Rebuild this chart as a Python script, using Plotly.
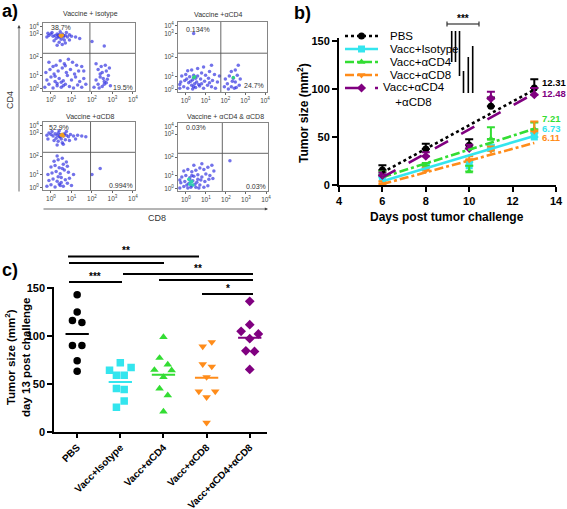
import plotly.graph_objects as go
import numpy as np

W, H = 567, 509
FONT = "Liberation Sans, Arial, sans-serif"

def PX(x):
    return x / W

def PY(y):
    return 1 - y / H

# ---------------- Panel a: flow cytometry (x: log10 CD8, y: display units of CD4) -------------
flow_titles = ["Vaccine + isotype", "Vaccine +αCD4", "Vaccine +αCD8", "Vaccine + αCD4 & αCD8"]
flow_ul_pct = ["38.7%", "0.134%", "52.9%", "0.03%"]
flow_lr_pct = ["19.5%", "24.7%", "0.994%", "0.03%"]
gate_x = [1.90, 1.77, 1.93, 1.82]
gate_y = [2.40, 2.40, 2.40, 2.40]
flow_xtick_vals = [0, 1, 2, 3, 4]
flow_ytick_vals = [0, 0.88, 2.14, 3.7, 4.2]
flow_tick_text = ["10<sup>0</sup>", "10<sup>1</sup>", "10<sup>2</sup>", "10<sup>3</sup>", "10<sup>4</sup>"]

iso_pts = [(0.45,3.6),(0.5,3.55),(0.4,3.65),(0.35,3.5),(0.55,3.7),(0.6,3.5),(0.3,3.7),(0.2,3.6),(0.1,3.55),(0.0,3.7),(-0.1,3.6),(-0.2,3.5),(0.7,3.6),(0.8,3.5),(0.9,3.65),(1.0,3.55),(1.2,3.5),(0.25,3.4),(0.5,3.35),(0.65,3.3),(0.15,3.25),(0.4,3.15),(0.7,3.1),(0.05,3.8),(0.45,3.85),(0.75,3.8),(-0.15,3.75),(0.55,3.0),(0.3,2.95),(0.9,3.3),(1.4,3.4),(0.35,3.6),(0.42,3.5),(0.6,3.62),
           (-0.3,0.1),(-0.1,0.3),(0.1,0.05),(0.3,0.2),(0.5,0.1),(0.7,0.3),(0.9,0.15),(1.1,0.05),(1.3,0.25),(1.5,0.1),(-0.2,0.6),(0.0,0.8),(0.2,0.5),(0.4,0.7),(0.6,0.55),(0.8,0.9),(1.0,0.6),(1.2,0.8),(1.4,0.5),(1.6,0.7),(-0.25,1.1),(-0.05,1.3),(0.15,1.0),(0.35,1.2),(0.55,1.4),(0.75,1.1),(0.95,1.3),(1.15,1.0),(1.35,1.2),(0.25,1.6),(0.65,1.7),(1.05,1.8),(0.45,1.9),(1.5,1.5),(-0.1,1.8),(0.85,2.0),(0.3,0.35),(0.5,0.45),(0.6,0.2),(0.2,0.85),(0.1,1.5),(0.7,1.55),(1.25,1.6),(1.7,0.3),(1.6,1.2),
           (2.1,0.1),(2.3,0.3),(2.5,0.15),(2.7,0.4),(2.9,0.2),(2.2,0.6),(2.4,0.8),(2.6,0.5),(2.8,0.9),(2.5,1.1),(2.3,1.3),(2.7,1.2),(2.45,1.5),(2.65,1.6),(2.55,0.7),(2.35,0.05),(2.75,0.65),(2.6,0.3),(2.4,1.0),(2.85,1.4),(2.2,1.7),(2.6,2.9),(2.0,3.2)]
iso_core = [(0.45,3.6),(0.5,3.55),(0.55,3.62)]

cd4_pts = [(0.4,3.7),
           (-0.3,0.1),(-0.1,0.2),(0.1,0.1),(0.3,0.3),(0.5,0.15),(0.7,0.25),(0.9,0.1),(1.1,0.3),(1.3,0.2),(1.5,0.1),(-0.25,0.5),(-0.05,0.6),(0.15,0.45),(0.35,0.65),(0.55,0.5),(0.75,0.7),(0.95,0.55),(1.15,0.75),(1.35,0.6),(-0.2,0.9),(0.0,1.0),(0.2,0.85),(0.4,0.95),(0.6,0.9),(0.8,1.1),(1.0,0.95),(1.2,1.2),(1.45,1.0),(0.3,1.3),(0.6,1.4),(0.9,1.5),(1.3,1.6),(0.1,1.25),(0.45,0.4),(0.25,0.55),(0.5,0.75),(0.4,0.2),(0.65,0.35),(1.6,0.5),(1.7,0.9),(1.2,0.45),(0.05,0.7),(-0.3,0.35),(0.35,0.05),(0.8,0.4),
           (1.95,0.2),(2.1,0.4),(2.3,0.2),(2.5,0.5),(2.7,0.3),(2.0,0.7),(2.2,0.9),(2.4,0.75),(2.6,0.95),(2.3,1.2),(2.5,1.3),(2.75,0.7),(2.15,0.05),(2.45,0.1),(2.35,0.55),(2.55,0.15),(2.65,1.6)]
cd4_core = [(0.4,0.8),(0.45,0.85),(2.4,0.8)]

cd8_pts = [(0.5,3.55),(0.6,3.5),(0.45,3.6),(0.4,3.45),(0.65,3.65),(0.3,3.55),(0.2,3.65),(0.1,3.5),(0.0,3.6),(-0.1,3.7),(-0.2,3.55),(0.75,3.55),(0.85,3.45),(0.95,3.6),(1.1,3.5),(1.3,3.55),(1.5,3.5),(1.7,3.45),(0.25,3.35),(0.5,3.3),(0.7,3.25),(0.35,3.15),(0.55,3.05),(0.15,3.2),(0.05,3.8),(0.4,3.85),(0.75,3.8),(-0.15,3.3),(0.9,3.2),(0.6,2.95),(0.3,2.9),(1.2,3.3),(0.45,3.45),(0.62,3.58),(0.35,3.7),
           (-0.2,0.1),(0.0,0.2),(0.2,0.05),(0.4,0.25),(0.6,0.1),(0.8,0.3),(1.0,0.15),(-0.1,0.5),(0.1,0.6),(0.3,0.45),(0.5,0.7),(0.7,0.55),(0.9,0.65),(-0.15,0.9),(0.05,1.0),(0.25,1.1),(0.45,0.95),(0.65,1.2),(0.85,1.05),(0.0,1.4),(0.2,1.5),(0.4,1.35),(0.6,1.6),(0.8,1.45),(0.15,1.8),(0.35,1.9),(0.55,2.0),(0.75,1.75),(0.3,2.15),(0.5,0.35),(0.35,0.75),(0.55,1.3),(1.1,0.9),(0.45,0.15),
           (2.0,0.9),(2.4,1.3)]
cd8_core = [(0.5,3.55),(0.55,3.62),(0.6,3.5)]

dbl_pts = [(-0.3,0.05),(-0.1,0.15),(0.1,0.05),(0.3,0.2),(0.5,0.1),(0.7,0.25),(0.9,0.1),(1.1,0.2),(-0.25,0.4),(-0.05,0.5),(0.15,0.35),(0.35,0.55),(0.55,0.45),(0.75,0.6),(0.95,0.5),(1.15,0.65),(-0.2,0.8),(0.0,0.9),(0.2,0.75),(0.4,0.85),(0.6,0.95),(0.8,0.8),(1.0,1.0),(1.2,0.9),(-0.1,1.2),(0.1,1.3),(0.3,1.15),(0.5,1.25),(0.7,1.4),(0.9,1.3),(1.1,1.45),(1.3,1.6),(0.4,1.6),(0.8,1.7),(0.2,0.6),(0.45,0.3),(0.3,0.9),(0.6,0.65),(0.05,0.25),(1.4,1.2),(1.35,0.7),(-0.3,0.6),(0.25,0.1),(0.65,0.05),
           (2.2,1.9)]
dbl_core = [(0.25,0.45),(0.3,0.5),(0.2,0.3),(0.35,0.25),(0.15,0.65)]

flow_pts = [iso_pts, cd4_pts, cd8_pts, dbl_pts]
flow_core = [iso_core, cd4_core, cd8_core, dbl_core]
core_colors = ["#f0a020", "#30d080", "#f0a020", "#30d0b0"]

# ---------------- Panel b: tumour growth ----------------
b_days = [6, 8, 10, 11, 13]
b_names = ["PBS", "Vacc+Isotype", "Vacc+αCD4", "Vacc+αCD8", "Vacc+αCD4<br>+αCD8"]
b_colors = ["#000000", "#33E5EE", "#33DD33", "#FF8C1A", "#800080"]
b_means = [
    [15.5, 37.5, 41.5, 82, 101],
    [8, 18, 20, 38, 50],
    [11, 20, 14, 48, 58],
    [1, 15, 26, 36, 56],
    [10, 30, 38, 90, 94],
]
b_err = [
    [5, 5.5, 6, 9, 9],
    [3, 3, 4, 4, 4],
    [3, 3, 6, 12, 7],
    [3, 3, 4, 4, 10],
    [3, 4, 4, 7, 7],
]
b_slopes = [12.31, 6.73, 7.21, 6.11, 12.48]
b_icpt6 = [13, 4, 8, 1, 8]          # fitted value at day 6
b_fit_days = [6, 13]
b_symbols = ["circle", "square", "triangle-up", "triangle-down", "diamond"]
b_dash = ["dot", "solid", "dashdot", "dashdot", "longdash"]
b_slope_label_y = [107, 58.5, 69, 49.5, 95.5]

# ---------------- Panel c: day 13 ----------------
c_groups = ["PBS", "Vacc+Isotype", "Vacc+αCD4", "Vacc+αCD8", "Vacc+αCD4+αCD8"]
c_vals = [
    [143, 125, 116, 114, 90, 90, 74, 63],
    [72, 64, 67, 59, 59, 45, 44, 32, 25.5],
    [98.7, 77, 70, 64.5, 64, 57, 45, 38, 21],
    [93.5, 89, 70.5, 68, 57, 42, 42, 36, 9.4],
    [136, 111.6, 104.8, 102, 97, 84.4, 83.7, 65],
]
c_offsets = [
    [0, 0, -0.11, 0.11, -0.11, 0.11, 0, 0],
    [0, -0.25, 0.25, -0.09, 0.09, -0.09, 0.09, 0.09, -0.09],
    [0, -0.09, 0.10, -0.21, 0.19, 0, -0.09, 0.10, 0],
    [0.12, -0.09, -0.09, 0.12, 0, -0.18, 0.20, 0, 0],
    [0, 0, -0.20, 0.20, 0, -0.09, 0.11, 0],
]

fig = go.Figure()
annotations = []
shapes = []


def note(x, y, text, size, color="#000", xanchor="center", angle=0, align="center", family=FONT):
    annotations.append(dict(x=PX(x), y=PY(y), xref="paper", yref="paper", text=text, showarrow=False,
                            xanchor=xanchor, yanchor="middle", textangle=angle, align=align,
                            font=dict(size=size, color=color, family=family)))


# ---- panel a traces & axes ----
flow_dom = [
    ((43, 135), (23, 91)),
    ((178, 267), (22, 92)),
    ((43, 135), (122, 190)),
    ((178, 268), (123, 191)),
]
layout = {}
for i in range(4):
    ax = i + 1
    xs = [p[0] for p in flow_pts[i]]
    ys = [p[1] for p in flow_pts[i]]
    fig.add_trace(go.Scatter(x=xs, y=ys, mode="markers", xaxis=f"x{ax}", yaxis=f"y{ax}",
                             marker=dict(size=3.5, color="#2f2fe0", opacity=0.68), showlegend=False,
                             hoverinfo="skip"))
    fig.add_trace(go.Scatter(x=[p[0] for p in flow_core[i]], y=[p[1] for p in flow_core[i]], mode="markers",
                             xaxis=f"x{ax}", yaxis=f"y{ax}",
                             marker=dict(size=3.5, color=core_colors[i]), showlegend=False, hoverinfo="skip"))
    fig.add_trace(go.Scatter(x=[gate_x[i], gate_x[i]], y=[-0.15, 4.45], mode="lines", xaxis=f"x{ax}", yaxis=f"y{ax}",
                             line=dict(color="#555", width=0.9), showlegend=False, hoverinfo="skip"))
    fig.add_trace(go.Scatter(x=[-0.39, 4.1], y=[gate_y[i], gate_y[i]], mode="lines", xaxis=f"x{ax}", yaxis=f"y{ax}",
                             line=dict(color="#555", width=0.9), showlegend=False, hoverinfo="skip"))
    (x0, x1), (y0, y1) = flow_dom[i]
    sfx = "" if ax == 1 else str(ax)
    layout[f"xaxis{sfx}"] = dict(domain=[PX(x0), PX(x1)], range=[-0.39, 4.1], anchor=f"y{ax}",
                                 showline=True, mirror=True, linecolor="#666", linewidth=0.8,
                                 ticks="outside", ticklen=2, tickcolor="#666", tickvals=flow_xtick_vals,
                                 ticktext=flow_tick_text, tickfont=dict(size=6.5, color="#444", family=FONT),
                                 showgrid=False, zeroline=False, fixedrange=True)
    layout[f"yaxis{sfx}"] = dict(domain=[PY(y1), PY(y0)], range=[-0.15, 4.45], anchor=f"x{ax}",
                                 showline=True, mirror=True, linecolor="#666", linewidth=0.8,
                                 ticks="outside", ticklen=2, tickcolor="#666", tickvals=flow_ytick_vals,
                                 ticktext=flow_tick_text, tickfont=dict(size=6.5, color="#444", family=FONT),
                                 showgrid=False, zeroline=False, fixedrange=True)

title_pos = [(90, 14), (218, 15), (90, 116), (225, 117)]
for i in range(4):
    note(title_pos[i][0], title_pos[i][1], flow_titles[i], 7, "#333")
ul_pos = [(49, 27), (184, 30), (47, 127), (184, 127)]
lr_pos = [(135, 87), (266, 86), (135, 185), (268, 186)]
for i in range(4):
    note(ul_pos[i][0], ul_pos[i][1], flow_ul_pct[i], 7, "#333", xanchor="left")
    note(lr_pos[i][0], lr_pos[i][1], flow_lr_pct[i], 7, "#333", xanchor="right")
# CD4 / CD8 arrows
annotations.append(dict(x=PX(19), y=PY(25), ax=0, ay=168, xref="paper", yref="paper",
                        axref="pixel", ayref="pixel", text="", showarrow=True, arrowhead=2, arrowsize=0.8,
                        arrowwidth=0.8, arrowcolor="#444"))
annotations.append(dict(x=PX(268), y=PY(209), ax=-226, ay=0, xref="paper", yref="paper",
                        axref="pixel", ayref="pixel", text="", showarrow=True, arrowhead=2, arrowsize=0.8,
                        arrowwidth=0.8, arrowcolor="#444"))
note(10, 100, "CD4", 9, "#333", angle=-90)
note(157, 218, "CD8", 9, "#333")

# panel labels
for lab, (lx, ly) in zip(["a)", "b)", "c)"], [(0, 11), (292, 13), (0, 270)]):
    note(lx, ly, f"<b>{lab}</b>", 18, xanchor="left")

# ---- panel b ----
for k in range(5):
    fig.add_trace(go.Scatter(x=b_days, y=b_means[k], mode="markers", xaxis="x5", yaxis="y5",
                             marker=dict(symbol=b_symbols[k], size=7, color=b_colors[k]),
                             error_y=dict(type="data", array=b_err[k], arrayminus=[0] * 5, symmetric=False,
                                          color=b_colors[k], thickness=2, width=4),
                             showlegend=False, hoverinfo="skip"))
for k in range(5):
    fy = [b_icpt6[k] + b_slopes[k] * (d - 6) for d in b_fit_days]
    fig.add_trace(go.Scatter(x=b_fit_days, y=fy, mode="lines", xaxis="x5", yaxis="y5",
                             line=dict(color=b_colors[k], width=2.6, dash=b_dash[k]), showlegend=False,
                             hoverinfo="skip"))
    annotations.append(dict(x=13.28, y=b_slope_label_y[k], xref="x5", yref="y5", xanchor="left", yanchor="middle",
                            text=f"<b>{b_slopes[k]:.2f}</b>", showarrow=False,
                            font=dict(size=9.5, color=b_colors[k], family=FONT)))

axis_common = dict(showline=True, linecolor="#000", linewidth=2, ticks="outside", ticklen=5, tickwidth=2,
                   tickcolor="#000", showgrid=False, zeroline=False, fixedrange=True,
                   tickfont=dict(size=11, color="#000", family=FONT, weight="bold"))
layout["xaxis5"] = dict(domain=[PX(339), PX(556)], range=[4, 14], anchor="y5", tickvals=[4, 6, 8, 10, 12, 14],
                        **axis_common)
layout["yaxis5"] = dict(domain=[PY(185), PY(38)], range=[0, 153], anchor="x5", tickvals=[0, 50, 100, 150],
                        **axis_common)
note(447, 217, "<b>Days post tumor challenge</b>", 12)
note(303, 113, "<b>Tumor size (mm<sup>2</sup>)</b>", 12, angle=-90)

# custom legend for panel b (overlay axis in figure pixel units)
leg_y = [36, 49, 62, 75, 88]
leg_x = [345, 361.5, 378]
for k in range(5):
    fig.add_trace(go.Scatter(x=leg_x, y=[leg_y[k]] * 3, mode="lines", xaxis="x7", yaxis="y7",
                             line=dict(color=b_colors[k], width=2.6, dash=b_dash[k]), showlegend=False,
                             hoverinfo="skip"))
    fig.add_trace(go.Scatter(x=[leg_x[1]], y=[leg_y[k]], mode="markers", xaxis="x7", yaxis="y7",
                             marker=dict(symbol=b_symbols[k], size=7, color=b_colors[k]), showlegend=False,
                             hoverinfo="skip"))
    if k < 4:
        note(388, leg_y[k], b_names[k], 11.5, xanchor="left")
    else:
        note(414, leg_y[k] + 6.5, b_names[k], 11.5)
layout["xaxis7"] = dict(domain=[0, 1], range=[0, W], visible=False, fixedrange=True, anchor="y7")
layout["yaxis7"] = dict(domain=[0, 1], range=[H, 0], visible=False, fixedrange=True, anchor="x7")

# significance marks panel b
sig_grey = "#333"
shapes.append(dict(type="line", xref="paper", yref="paper", x0=PX(447), x1=PX(479), y0=PY(24), y1=PY(24),
                   line=dict(color=sig_grey, width=1.2)))
for xx in (447, 479):
    shapes.append(dict(type="line", xref="paper", yref="paper", x0=PX(xx), x1=PX(xx), y0=PY(21.5), y1=PY(26.5),
                       line=dict(color=sig_grey, width=1.2)))
note(463, 19, "<b>***</b>", 10)
vbars = [(451.7, 31, 62), (455.5, 31, 62), (459.5, 31, 76), (463.5, 71, 93), (468.3, 57, 93), (472.7, 46, 93)]
for xx, ya, yb in vbars:
    shapes.append(dict(type="line", xref="paper", yref="paper", x0=PX(xx), x1=PX(xx), y0=PY(ya), y1=PY(yb),
                       line=dict(color="#000", width=1.6)))

# ---- panel c ----
for g in range(5):
    xs = [g + o for o in c_offsets[g]]
    fig.add_trace(go.Scatter(x=xs, y=c_vals[g], mode="markers", xaxis="x6", yaxis="y6",
                             marker=dict(symbol=b_symbols[g], size=7.5, color=b_colors[g]), showlegend=False,
                             hoverinfo="skip"))
    m = float(np.mean(c_vals[g]))
    fig.add_trace(go.Scatter(x=[g - 0.27, g + 0.27], y=[m, m], mode="lines", xaxis="x6", yaxis="y6",
                             line=dict(color=b_colors[g], width=2), showlegend=False, hoverinfo="skip"))

axis_c_x = dict(axis_common)
axis_c_x["tickfont"] = dict(size=10, color="#000", family=FONT, weight="bold")
axis_c_x["ticklen"] = 4
layout["xaxis6"] = dict(domain=[PX(54.3), PX(267)], range=[-0.53, 4.4], anchor="y6", tickvals=[0, 1, 2, 3, 4],
                        ticktext=c_groups, tickangle=-45, **axis_c_x)
layout["yaxis6"] = dict(domain=[PY(431.7), PY(286.5)], range=[0, 151.5], anchor="x6", tickvals=[0, 50, 100, 150],
                        **axis_common)
note(17, 357, "<b>Tumor size (mm<sup>2</sup>)<br>day 13 post challenge</b>", 11.5, angle=-90)

c_sig_lines = [(68, 199, 256.5), (69, 164, 263), (123, 253, 274), (159, 253, 280), (69, 122, 282), (202, 253, 294)]
for xa, xb, yy in c_sig_lines:
    shapes.append(dict(type="line", xref="paper", yref="paper", x0=PX(xa), x1=PX(xb), y0=PY(yy), y1=PY(yy),
                       line=dict(color="#000", width=2)))
for txt, (tx, ty) in zip(["**", "**", "***", "*"], [(126, 250), (198, 268), (95, 276), (228, 288)]):
    note(tx, ty, f"<b>{txt}</b>", 10)

fig.update_layout(width=W, height=H, margin=dict(l=0, r=0, t=0, b=0, autoexpand=False), paper_bgcolor="white",
                  plot_bgcolor="rgba(0,0,0,0)", showlegend=False, annotations=annotations, shapes=shapes,
                  font=dict(family=FONT), hovermode=False, **layout)
fig.write_html("out.html", config={"displayModeBar": False, "staticPlot": True},
               post_script="document.body.style.margin='0px';document.body.style.overflow='hidden';")
